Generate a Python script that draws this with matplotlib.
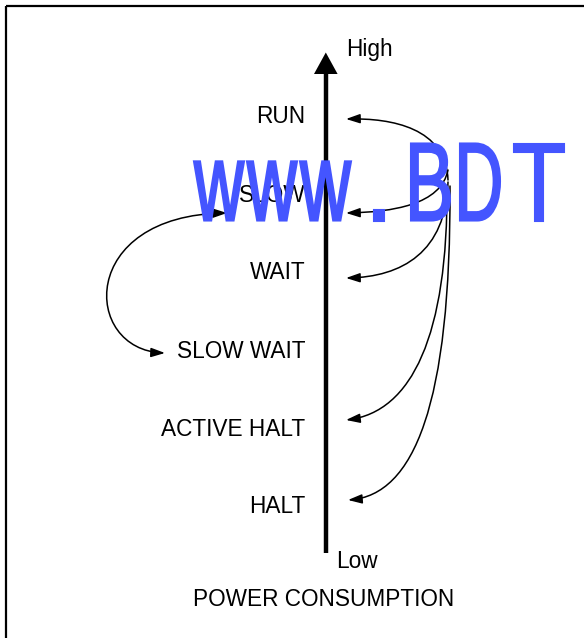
import matplotlib
matplotlib.use("Agg")
import matplotlib.pyplot as plt
from matplotlib.patches import FancyArrowPatch, PathPatch
from matplotlib.path import Path
from matplotlib.textpath import TextPath
from matplotlib.font_manager import FontProperties
from matplotlib.transforms import Affine2D

plt.rcParams['font.family'] = ['Liberation Sans', 'DejaVu Sans']

# modes, ordered from high to low power consumption
modes = ["RUN", "SLOW", "WAIT", "SLOW WAIT", "ACTIVE HALT", "HALT"]
# baseline of each label (pixels from the top)
mode_y = [123, 202, 279, 358, 436, 513]
# modes reachable through the arrows on the right
right_targets = ["RUN", "SLOW", "WAIT", "ACTIVE HALT", "HALT"]
axis_labels = ["High", "Low"]
title = "POWER CONSUMPTION"
watermark = "www.BDT"

W, H = 584, 638
fig = plt.figure(figsize=(W / 100, H / 100), dpi=100)
ax = fig.add_axes([0, 0, 1, 1])
ax.set_xlim(0, W)
ax.set_ylim(H, 0)
ax.axis('off')

# frame (top and left edges only)
ax.plot([5.5, W], [5.5, 5.5], color='black', lw=1.6, solid_capstyle='butt')
ax.plot([5.5, 5.5], [5.5, H], color='black', lw=1.6, solid_capstyle='butt')

# power consumption axis
ax.plot([325.8, 325.8], [553, 72], color='black', lw=3.2, solid_capstyle='butt')
ax.add_patch(plt.Polygon([[314, 74], [337.6, 74], [325.8, 52.5]], closed=True,
                         facecolor='black', edgecolor='none'))

fs = 16.3
for name, y in zip(modes, mode_y):
    ax.text(305.5, y, name, ha='right', va='baseline', fontsize=fs, color='black')

ax.text(346, 56, axis_labels[0], ha='left', va='baseline', fontsize=fs, color='black')
ax.text(336, 568, axis_labels[1], ha='left', va='baseline', fontsize=fs, color='black')
ax.text(323.5, 606, title, ha='center', va='baseline', fontsize=fs, color='black')

# curved arrows from the right side into each mode
curves = {
    "RUN": [(448, 180), (446, 128), (392, 118), (346, 119)],
    "SLOW": [(448, 170), (441, 205), (392, 212), (346, 213)],
    "WAIT": [(448, 182), (446, 252), (402, 277), (346, 278)],
    "ACTIVE HALT": [(447, 186), (448, 335), (412, 412), (346, 420)],
    "HALT": [(450, 186), (451, 405), (414, 495), (348, 500)],
}
codes = [Path.MOVETO, Path.CURVE4, Path.CURVE4, Path.CURVE4]
for name in right_targets:
    p = FancyArrowPatch(path=Path(curves[name], codes),
                        arrowstyle='-|>,head_length=0.6,head_width=0.2',
                        mutation_scale=14, color='black', lw=1.1)
    ax.add_patch(p)

# SLOW <-> SLOW WAIT loop on the left
loop = FancyArrowPatch(path=Path([(227, 213), (77, 215), (82, 350), (165, 353)], codes),
                       arrowstyle='<|-|>,head_length=0.6,head_width=0.2',
                       mutation_scale=14, color='black', lw=1.1)
ax.add_patch(loop)

# watermark: each glyph squeezed into the box it fills in the picture
prop = FontProperties(family='Liberation Sans')
cap = TextPath((0, 0), "B", size=100, prop=prop).get_extents()
sy = 77 / cap.y1
glyph_x = [(194, 244), (247, 297), (300, 351), (374, 384), (411, 450), (460, 500), (514, 564)]
for ch, (x0, x1) in zip(watermark, glyph_x):
    tp = TextPath((0, 0), ch, size=100, prop=prop)
    bb = tp.get_extents()
    sx = (x1 - x0) / bb.width
    sy_ch = 11 / bb.height if ch == '.' else sy
    tr = Affine2D().translate(-bb.x0, 0).scale(sx, -sy_ch).translate(x0, 220.5)
    ax.add_patch(PathPatch(tr.transform_path(tp), facecolor='#4455ff',
                           edgecolor='#4455ff', lw=1.5, zorder=5))

fig.savefig('out.png', dpi=100)
